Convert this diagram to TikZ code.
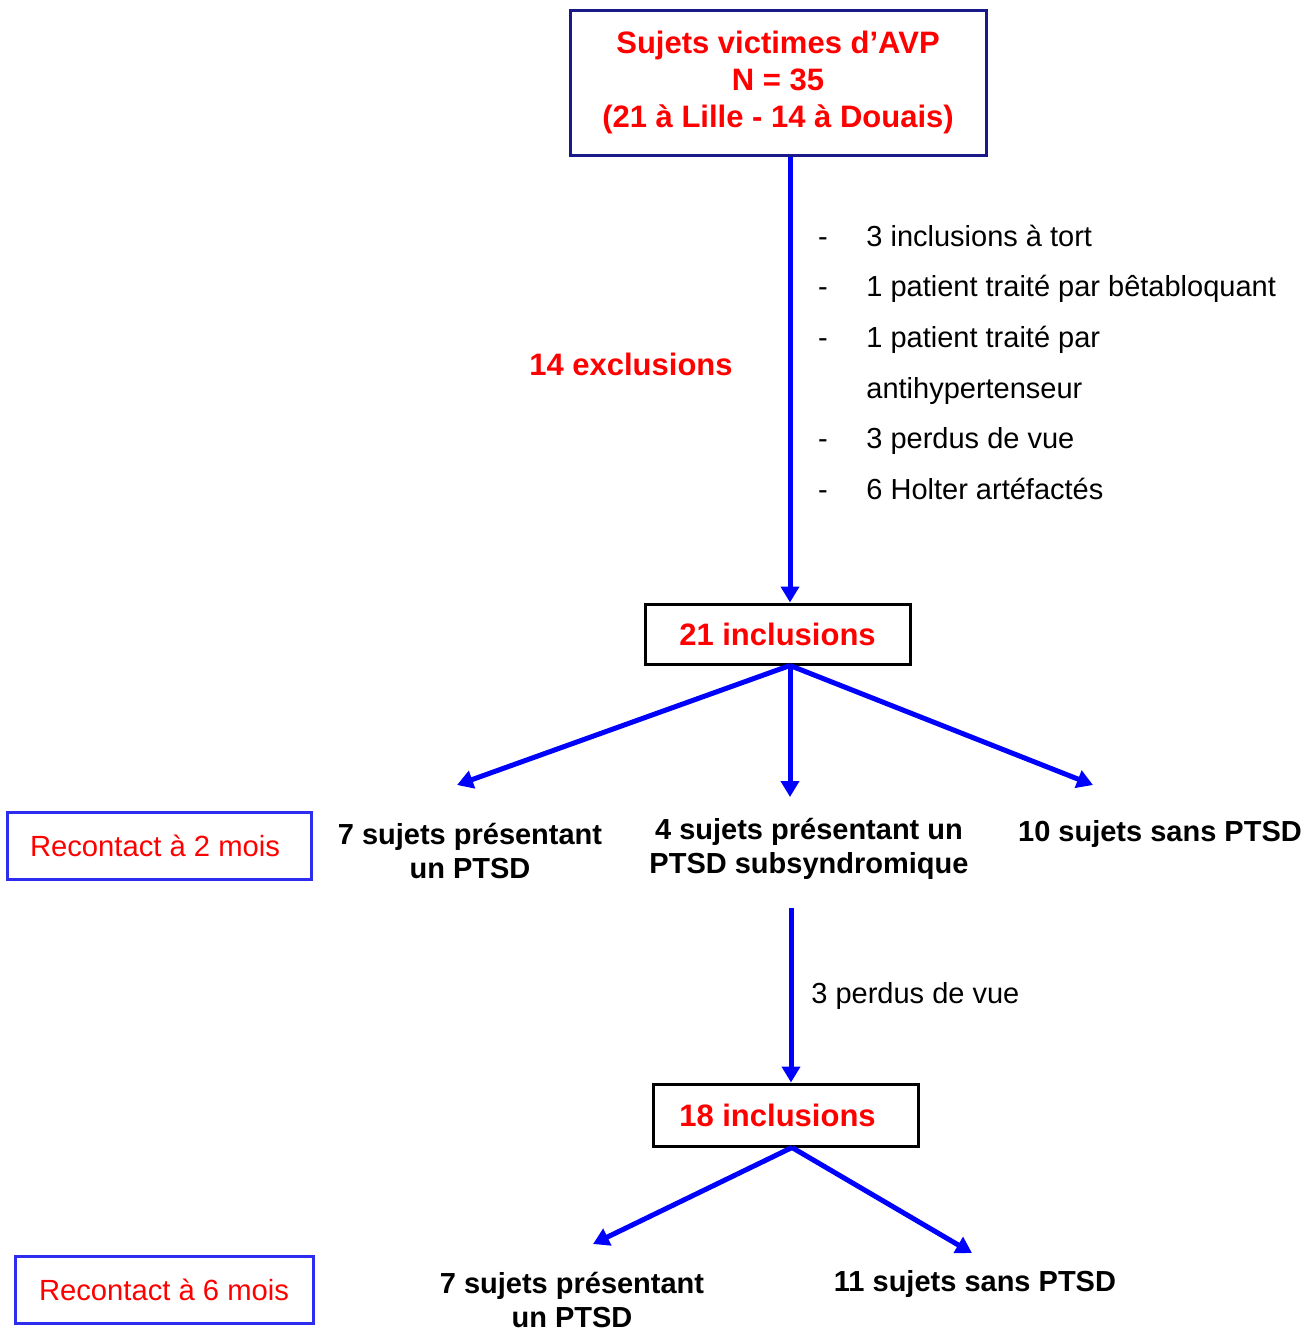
\documentclass[tikz,border=0pt]{standalone}
\usepackage{fontspec}
\setmainfont{Liberation Sans}
\usetikzlibrary{arrows.meta}
\definecolor{marine}{RGB}{25,25,140}
\definecolor{bleucadre}{RGB}{45,45,240}

\begin{document}
\begin{tikzpicture}[x=0.5pt,y=-0.5pt,>={Triangle[length=8pt,width=9pt]},
        cadre/.style={draw=#1,line width=1.5pt,fill=white,inner sep=0pt,align=center},
        titre/.style={text=red,font=\fontsize{15.5}{18.5}\selectfont\bfseries},
        rappel/.style={text=red,font=\fontsize{14.6}{17}\selectfont},
        groupe/.style={align=center,font=\fontsize{14.5}{17}\selectfont\bfseries},
        motif/.style={anchor=base west,inner sep=0pt,font=\fontsize{14.5}{17}\selectfont},
        fleche/.style={blue,line width=2.5pt,->}]
      \useasboundingbox (0,0) rectangle (1314,1333);
      % boites
      \node [cadre=marine,titre,minimum width=208pt,minimum height=72.5pt] (avp) at (778,82.5)
            {Sujets victimes d’AVP\\N = 35\\(21 à Lille - 14 à Douais)};
      \node [cadre=black,titre,minimum width=132.5pt,minimum height=30pt]  (i21) at (777.5,634) {21 inclusions};
      \node [cadre=black,titre,minimum width=132.5pt,minimum height=31pt]  (i18) at (785.5,1115) {18 inclusions\hspace*{8pt}};
      \node [cadre=bleucadre,rappel,minimum width=152pt,minimum height=33.5pt] (r2) at (159,845.5) {Recontact à 2 mois\hspace*{4pt}};
      \node [cadre=bleucadre,rappel,minimum width=149pt,minimum height=33.5pt] (r6) at (164,1289.5) {Recontact à 6 mois};
      % exclusions
      \node [titre] (excl) at (631,364) {14 exclusions};
      \foreach \y/\txt [count=\i] in {246/3 inclusions à tort,
                                     296/1 patient traité par bêtabloquant,
                                     347/1 patient traité par,
                                     398/antihypertenseur,
                                     448/3 perdus de vue,
                                     499/6 Holter artéfactés}
        \node [motif] (m\i) at (866,\y) {\txt};
      \foreach \i in {1,2,3,5,6}
        \node [motif,anchor=base] at (m\i.base -| 823,0) {-};
      \node [motif,anchor=west] (perdus) at (811,996) {3 perdus de vue};
      % groupes
      \node [groupe] (g1) at (470,851)  {7 sujets présentant\\un PTSD};
      \node [groupe] (g2) at (809,849)  {4 sujets présentant un\\PTSD subsyndromique};
      \node [groupe] (g3) at (1160,834) {10 sujets sans PTSD};
      \node [groupe] (h1) at (572,1300) {7 sujets présentant\\un PTSD};
      \node [groupe] (h2) at (975,1284) {11 sujets sans PTSD};
      % pointes
      \coordinate (pg1) at (457,785);
      \coordinate (pg2) at (790,797);
      \coordinate (pg3) at (1093,785);
      \coordinate (dep) at (791,908);
      \coordinate (ph1) at (593,1244);
      \coordinate (ph2) at (972,1253);
      \path[fleche]
      ([xshift=6pt]avp.south) edge ([xshift=6.25pt]i21.north)
      ([xshift=6.25pt]i21.south) edge (pg1)
      ([xshift=6.25pt]i21.south) edge (pg2)
      ([xshift=6.25pt]i21.south) edge (pg3)
      (dep) edge ([xshift=2.75pt]i18.north)
      ([xshift=3.25pt]i18.south) edge (ph1)
      ([xshift=3.25pt]i18.south) edge (ph2);
    \end{tikzpicture}
\end{document}
